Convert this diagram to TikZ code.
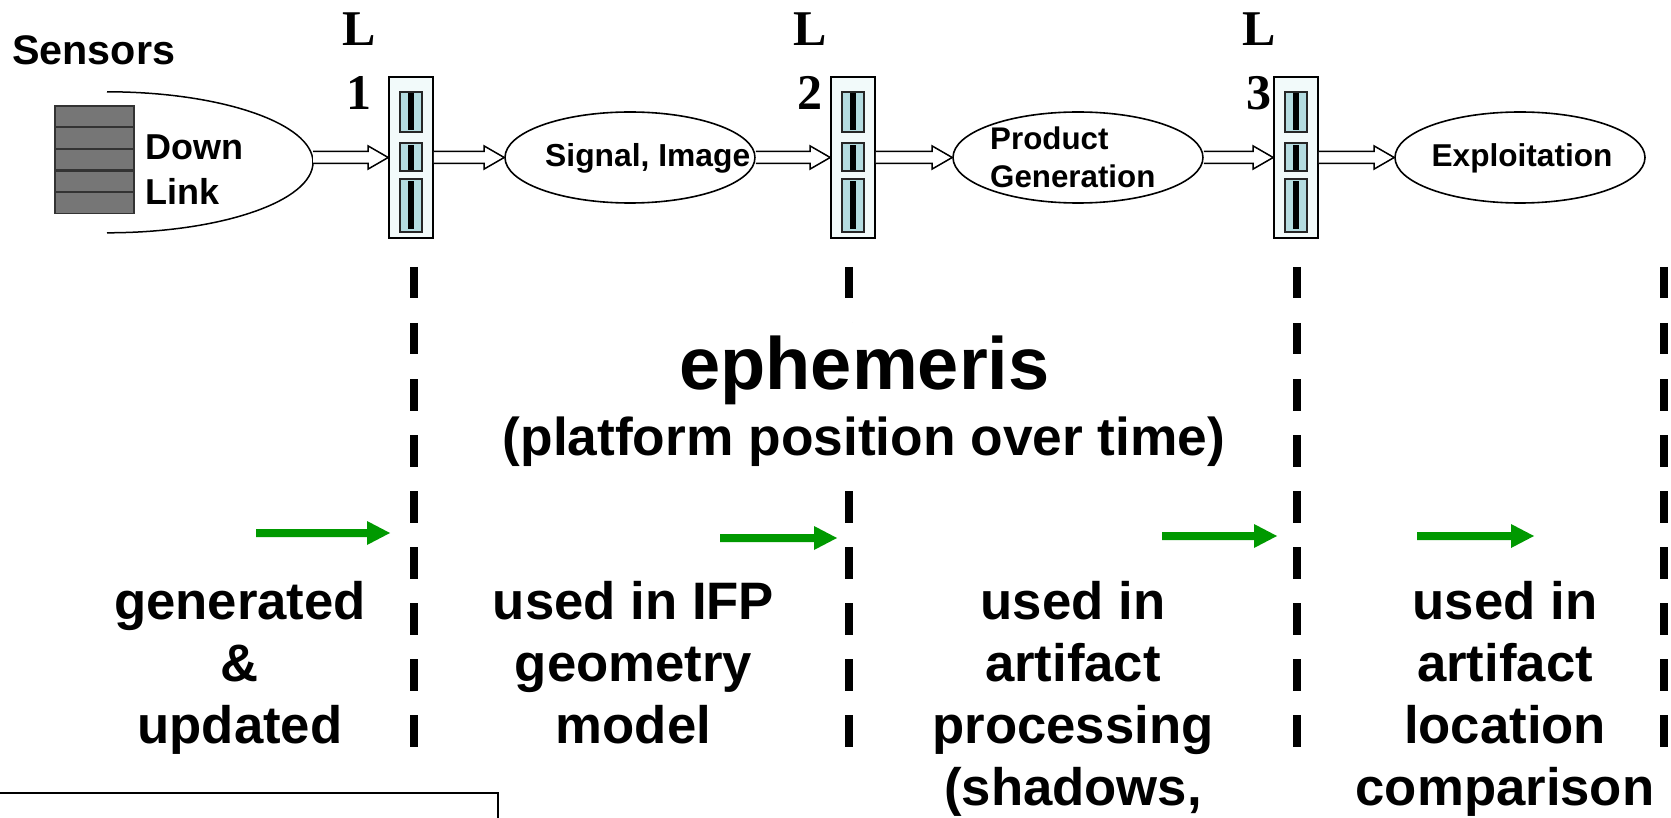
\documentclass[tikz,border=0pt]{standalone}
\usepackage{fontspec}
\setsansfont{Liberation Sans}
\newfontfamily\lvlfont{Liberation Serif}
\usetikzlibrary{shapes.geometric,calc}
\definecolor{boxfill}{RGB}{242,250,250}
\definecolor{cellfill}{RGB}{180,220,224}
\definecolor{sensgray}{RGB}{118,118,118}
\definecolor{gogreen}{RGB}{0,153,0}
\tikzset{
  txt/.style = {inner sep=0pt, font=\sffamily\bfseries},
  proc/.style = {ellipse, draw=black, fill=white, line width=1.6pt,
    minimum width=250pt, minimum height=91pt, inner sep=0pt},% processing step
  lvl/.style = {rectangle, draw=black, fill=boxfill, line width=1.6pt,
    minimum width=44pt, minimum height=161pt, inner sep=0pt},% level box
  cellbox/.style = {rectangle, draw=black!85, fill=cellfill, line width=1.5pt,
    minimum width=22pt, inner sep=0pt},% slot in a level box
  barline/.style = {line width=6pt, black},
  sens/.style = {rectangle, draw=black!80, fill=sensgray, line width=1.5pt,
    minimum width=79pt, minimum height=21pt, inner sep=0pt},% sensor plate
  lvllbl/.style = {inner sep=0pt, align=center, anchor=base,
    font=\fontsize{50}{64}\selectfont\lvlfont\bfseries},% base = last line
  divider/.style = {line width=8pt, dash pattern=on 31.5pt off 24.5pt},
  colbox/.style = {txt, align=center, anchor=base,
    font=\fontsize{52.7}{62}\selectfont\sffamily\bfseries},
  hollowarrow/.style = {draw=black, fill=white, line width=1.5pt,
    to path={let \p1=(\tikztostart), \p2=(\tikztotarget) in
      (\x1,\y2+6pt) -- (\x2-20pt,\y2+6pt) -- (\x2-20pt,\y2+11.5pt) -- (\x2,\y2)
      -- (\x2-20pt,\y2-11.5pt) -- (\x2-20pt,\y2-6pt) -- (\x1,\y2-6pt)}},
  greenarrow/.style = {fill=gogreen,
    to path={let \p1=(\tikztostart), \p2=(\tikztotarget) in
      (\x1,\y1+4pt) -- (\x2-23pt,\y1+4pt) -- (\x2-23pt,\y1+12pt) -- (\x2,\y1)
      -- (\x2-23pt,\y1-12pt) -- (\x2-23pt,\y1-4pt) -- (\x1,\y1-4pt) -- cycle}}
}

\begin{document}
\begin{tikzpicture}[x=1pt,y=-1pt]
\fill[white] (0,0) rectangle (1671,818);
\useasboundingbox (0,0) rectangle (1671,818);

% phase borders
\draw[divider] (414,267) -- (414,746.5);
\draw[divider] (849,267) -- (849,746.5);
\draw[divider] (1297,267) -- (1297,746.5);
\draw[divider] (1664,267) -- (1664,746.5);

% sensors and down link
\node[txt, anchor=base west, font=\fontsize{41.3}{49}\selectfont\sffamily\bfseries]
  (sensors) at (12,65) {Sensors};
\foreach \i in {0,...,4}
  \node[sens] (s\i) at (94.5,116.5+21.6*\i) {};
\node[ellipse, minimum width=412pt, minimum height=141pt, inner sep=0pt] (dl) at (107,162.5) {};
\draw[line width=1.5pt] (dl.north) arc[start angle=-90, end angle=90, x radius=206, y radius=70.5];
\node[txt, align=left, anchor=base west, font=\fontsize{36}{45}\selectfont\sffamily\bfseries]
  (dltxt) at (145,205) {Down\\Link};

% level boxes
\node[lvl] (l1) at (411,157.5) {};
\node[lvl] (l2) at (853,157.5) {};
\node[lvl] (l3) at (1296,157.5) {};
\foreach \b in {l1,l2,l3}{
  \node[cellbox, minimum height=40pt] (\b-a) at ([yshift=45.5pt]\b.center) {};
  \node[cellbox, minimum height=28pt] (\b-b) at ([yshift=0.5pt]\b.center) {};
  \node[cellbox, minimum height=53pt] (\b-c) at ([yshift=-48pt]\b.center) {};
  \draw[barline] ([yshift=-2pt]\b-a.north) -- ([yshift=3pt]\b-a.south);
  \draw[barline] ([yshift=-3pt]\b-b.north) -- ([yshift=2pt]\b-b.south);
  \draw[barline] ([yshift=-3pt]\b-c.north) -- ([yshift=4pt]\b-c.south);
}
\node[lvllbl] (n1) at (359,110) {L\\1};
\node[lvllbl] (n2) at (810,110) {L\\2};
\node[lvllbl] (n3) at (1259,110) {L\\3};

% processing steps
\node[proc] (sig) at (630,157.5) {};
\node[proc] (prod) at (1078,157.5) {};
\node[proc] (expl) at (1520,157.5) {};
\node[txt, anchor=base west, font=\fontsize{31.8}{38}\selectfont\sffamily\bfseries]
  (sigtxt) at (545,167) {Signal, Image};
\node[txt, align=left, anchor=base west, font=\fontsize{31.3}{38}\selectfont\sffamily\bfseries]
  (prodtxt) at (990,188) {Product\\Generation};
\node[txt, anchor=base, font=\fontsize{31.6}{38}\selectfont\sffamily\bfseries]
  (expltxt) at (1522,167) {Exploitation};

% flow
\draw[hollowarrow] (dl.east) to (l1.west);
\draw[hollowarrow] (l1.east) to (sig.west);
\draw[hollowarrow] (sig.east) to (l2.west);
\draw[hollowarrow] (l2.east) to (prod.west);
\draw[hollowarrow] (prod.east) to (l3.west);
\draw[hollowarrow] (l3.east) to (expl.west);

% ephemeris title
\node[txt, fill=white, inner sep=12pt, anchor=base,
  font=\fontsize{74}{88}\selectfont\sffamily\bfseries] (eph) at (864.5,389) {ephemeris};
\node[txt, fill=white, inner sep=3pt, anchor=base,
  font=\fontsize{53.3}{64}\selectfont\sffamily\bfseries] (plat) at (864,455)
  {(platform position over time)};

% green arrows
\coordinate (g1a) at (256,533);  \coordinate (g1b) at (390,533);
\coordinate (g2a) at (720,538);  \coordinate (g2b) at (837,538);
\coordinate (g3a) at (1162,536); \coordinate (g3b) at (1277,536);
\coordinate (g4a) at (1417,536); \coordinate (g4b) at (1534,536);
\fill[greenarrow] (g1a) to (g1b);
\fill[greenarrow] (g2a) to (g2b);
\fill[greenarrow] (g3a) to (g3b);
\fill[greenarrow] (g4a) to (g4b);

% usage per phase
\node[colbox] (c1) at (240,743) {generated\\\&\\updated};
\node[colbox] (c2) at (633.5,743) {used in IFP\\geometry\\model};
\node[colbox] (c3) at (1073,805) {used in\\artifact\\processing\\(shadows,};
\node[colbox] (c4) at (1505,805) {used in\\artifact\\location\\comparison};

\draw[line width=2pt] (-5,793) rectangle (498,840);
\end{tikzpicture}
\end{document}
